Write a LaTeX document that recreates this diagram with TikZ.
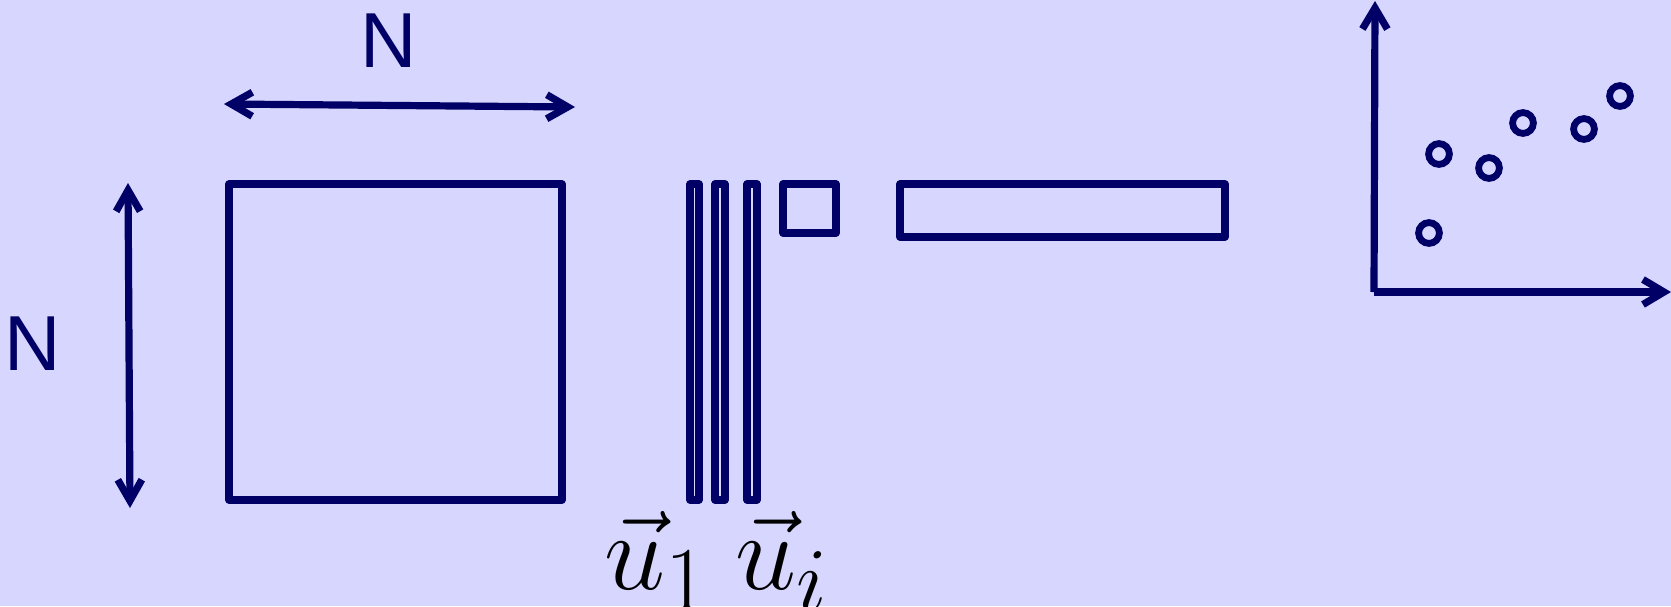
\documentclass[tikz,border=0pt]{standalone}
\usepackage{fontspec}
\setsansfont{Liberation Sans}
\usetikzlibrary{arrows.meta}
\definecolor{cBg}{HTML}{D6D6FF}
\definecolor{cInk}{HTML}{000066}
\tikzset{
  outline/.style={draw=cInk,line width=3.6pt,line join=round},
  dimarrow/.style={cInk,line width=3.6pt,{Straight Barb[length=10.5pt,width=12pt]}-{Straight Barb[length=10.5pt,width=12pt]}},
  axisarrow/.style={cInk,line width=3.6pt,-{Straight Barb[length=10.5pt,width=12.5pt]}},
  sizelabel/.style={text=cInk,inner sep=0pt,font=\sffamily\fontsize{39}{41}\selectfont},
  veclabel/.style={anchor=base west,inner sep=0pt,font=\Huge,scale=2.2}
}

\begin{document}
\begin{tikzpicture}[x=0.5pt,y=-0.5pt]
  \useasboundingbox (0,0) rectangle (1671,606);
  \fill[cBg] (0,0) rectangle (1671,606);
  % square matrix with its two sizes
  \draw[outline] (229,184) rectangle (562,500);
  \coordinate (topL) at (224,104);
  \coordinate (topR) at (575,107);
  \coordinate (sideT) at (128,183);
  \coordinate (sideB) at (130,508);
  \draw[dimarrow] (topL) -- (topR);
  \draw[dimarrow] (sideT) -- (sideB);
  \node[sizelabel] (nTop) at (389,41) {N};
  \node[sizelabel] (nSide) at (33,344) {N};
  % eigenvectors, eigenvalue, projection
  \foreach \a/\b in {690/699, 715/725, 747/757}{
    \draw[outline] (\a,184) rectangle (\b,500);
  }
  \draw[outline] (783,184) rectangle (836,233);
  \draw[outline] (900,184) rectangle (1225,237);
  \node[veclabel] (uOne) at (604,589) {$\vec{u}_1$};
  \node[veclabel] (uEye) at (735,589) {$\vec{u}_i$};
  % scatter plot
  \coordinate (orig) at (1374,292);
  \coordinate (yEnd) at (1375,1);
  \coordinate (xEnd) at (1671,292);
  \draw[axisarrow] (orig) -- (yEnd);
  \draw[axisarrow] (orig) -- (xEnd);
  \foreach \px/\py in {1429/233, 1439/154, 1489/168, 1523/123, 1584/129, 1620/96}{
    \draw[cInk,line width=3.4pt] (\px,\py) circle[radius=10.4];
  }
\end{tikzpicture}
\end{document}
